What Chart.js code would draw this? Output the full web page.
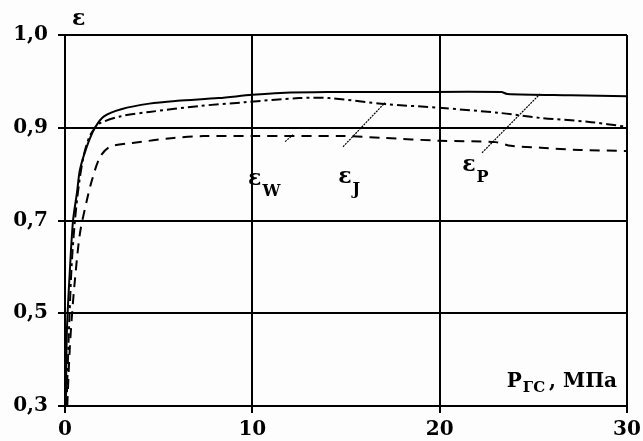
<!DOCTYPE html>
<html lang="ru">
<head>
  <meta charset="UTF-8" />
  <title>ε(P)</title>
  <style>
    html, body { margin: 0; padding: 0; background: #fdfdfd; }
    #wrap { width: 643px; height: 441px; }
  </style>
</head>
<body>
  <div id="wrap"><canvas id="grafico" width="643" height="441"></canvas></div>
  <script src="https://cdn.jsdelivr.net/npm/chart.js"></script>
  <script>
    // eps_P (solid)
    const xP = [0.05, 0.1, 0.27, 0.43, 0.64, 0.8, 1.17, 1.6, 2.1, 3, 4.5, 6, 8.2, 10, 11.5, 14, 18, 23.3, 23.6, 27, 30];
    const yP = [0.3, 0.46, 0.6, 0.7, 0.76, 0.81, 0.86, 0.9, 0.925, 0.94, 0.952, 0.958, 0.964, 0.971, 0.975, 0.977, 0.977, 0.977, 0.973, 0.97, 0.968];
    // eps_J (dash-dot)
    const xJ = [0.08, 0.2, 0.35, 0.53, 0.75, 1.0, 1.3, 1.6, 1.87, 3, 4.5, 7.2, 9.6, 12.5, 14.1, 17.1, 20, 23.2, 25.4, 27.9, 30];
    const yJ = [0.3, 0.45, 0.6, 0.7, 0.78, 0.84, 0.88, 0.9, 0.91, 0.925, 0.934, 0.947, 0.955, 0.964, 0.964, 0.951, 0.943, 0.932, 0.921, 0.913, 0.902];
    // eps_W (dashed)
    const xW = [0.12, 0.25, 0.38, 0.53, 0.8, 1.17, 1.44, 1.87, 2.4, 3.6, 5.8, 7.4, 10, 15, 17, 20, 23, 23.8, 25.4, 27.5, 30];
    const yW = [0.3, 0.42, 0.5, 0.572, 0.673, 0.744, 0.787, 0.837, 0.859, 0.867, 0.878, 0.882, 0.882, 0.882, 0.878, 0.872, 0.869, 0.861, 0.857, 0.852, 0.85];

    const xTicks = [0, 10, 20, 30];
    const yTicks = [0.3, 0.5, 0.7, 0.9, 1.1];
    const yTickLabels = ["0,3", "0,5", "0,7", "0,9", "1,0"];

    const FONT = "DejaVu Serif";

    function puntos(xs, ys) {
      return xs.map((x, i) => ({ x: x, y: ys[i] }));
    }

    // leader lines & labels, in axis values
    const etiquetas = [
      { sub: "W", tx: 9.77, ty: 0.777, from: [11.75, 0.870], to: [12.17, 0.885] },
      { sub: "J", tx: 14.58, ty: 0.781, from: [14.84, 0.859], to: [17.08, 0.954] },
      { sub: "P", tx: 21.2, ty: 0.807, from: [22.26, 0.846], to: [25.36, 0.973] }
    ];

    const anotaciones = {
      id: "anotaciones",
      afterDraw(chart) {
        const ctx = chart.ctx;
        const xs = chart.scales.x, ys = chart.scales.y;
        const area = chart.chartArea;
        ctx.save();
        ctx.fillStyle = "#000";
        ctx.strokeStyle = "#000";
        ctx.textBaseline = "alphabetic";
        ctx.textAlign = "left";

        etiquetas.forEach(e => {
          ctx.lineWidth = 1.2;
          ctx.setLineDash([2, 1]);
          ctx.beginPath();
          ctx.moveTo(xs.getPixelForValue(e.from[0]), ys.getPixelForValue(e.from[1]));
          ctx.lineTo(xs.getPixelForValue(e.to[0]), ys.getPixelForValue(e.to[1]));
          ctx.stroke();
          ctx.setLineDash([]);
          const px = xs.getPixelForValue(e.tx), py = ys.getPixelForValue(e.ty);
          ctx.font = "bold 22px " + FONT;
          ctx.fillText("ε", px, py);
          const w = ctx.measureText("ε").width;
          ctx.font = "bold 16px " + FONT;
          ctx.fillText(e.sub, px + w + 1, py + 11);
        });

        // axis names
        ctx.font = "bold 22px " + FONT;
        ctx.fillText("ε", area.left + 7, area.top - 10);

        const bx = area.right - 10, by = area.bottom - 19;
        ctx.textAlign = "right";
        ctx.font = "bold 20px " + FONT;
        ctx.fillText(", МПа", bx, by);
        let w1 = ctx.measureText(", МПа").width;
        ctx.font = "bold 15px " + FONT;
        ctx.fillText("ГС", bx - w1 - 4, by + 5);
        let w2 = ctx.measureText("ГС").width;
        ctx.font = "bold 20px " + FONT;
        ctx.fillText("P", bx - w1 - 4 - w2 - 1, by);
        ctx.restore();
      }
    };

    const rejilla = {
      color: "#000",
      lineWidth: 2,
      tickLength: 7,
      tickColor: "#000"
    };

    new Chart(document.getElementById("grafico"), {
      type: "scatter",
      data: {
        datasets: [
          { label: "εP", data: puntos(xP, yP), showLine: true, borderColor: "#000", borderWidth: 2, pointRadius: 0, tension: 0.3 },
          { label: "εJ", data: puntos(xJ, yJ), showLine: true, borderColor: "#000", borderWidth: 2, borderDash: [10, 4, 3, 4], pointRadius: 0, tension: 0.3 },
          { label: "εW", data: puntos(xW, yW), showLine: true, borderColor: "#000", borderWidth: 2, borderDash: [10, 7], pointRadius: 0, tension: 0.3 }
        ]
      },
      options: {
        responsive: false,
        animation: false,
        layout: { padding: { top: 35, right: 16, left: 0, bottom: 0 } },
        plugins: { legend: { display: false }, tooltip: { enabled: false } },
        scales: {
          x: {
            type: "linear",
            min: 0, max: 30,
            afterBuildTicks: s => { s.ticks = xTicks.map(v => ({ value: v })); },
            afterFit: s => { s.height = 35; s.paddingLeft = 0; s.paddingRight = 0; },
            grid: rejilla,
            border: { color: "#000", width: 2 },
            ticks: { color: "#000", font: { family: FONT, size: 20, weight: "bold" }, padding: 5, maxRotation: 0 }
          },
          y: {
            type: "linear",
            min: 0.3, max: 1.1,
            afterBuildTicks: s => { s.ticks = yTicks.map(v => ({ value: v })); },
            afterFit: s => { s.width = 65; s.paddingTop = 0; s.paddingBottom = 0; },
            grid: rejilla,
            border: { color: "#000", width: 2 },
            ticks: {
              color: "#000",
              font: { family: FONT, size: 20, weight: "bold" },
              padding: 10,
              callback: (v) => {
                const i = yTicks.findIndex(t => Math.abs(t - v) < 1e-6);
                return i >= 0 ? yTickLabels[i] : "";
              }
            }
          }
        }
      },
      plugins: [anotaciones]
    });
  </script>
</body>
</html>
